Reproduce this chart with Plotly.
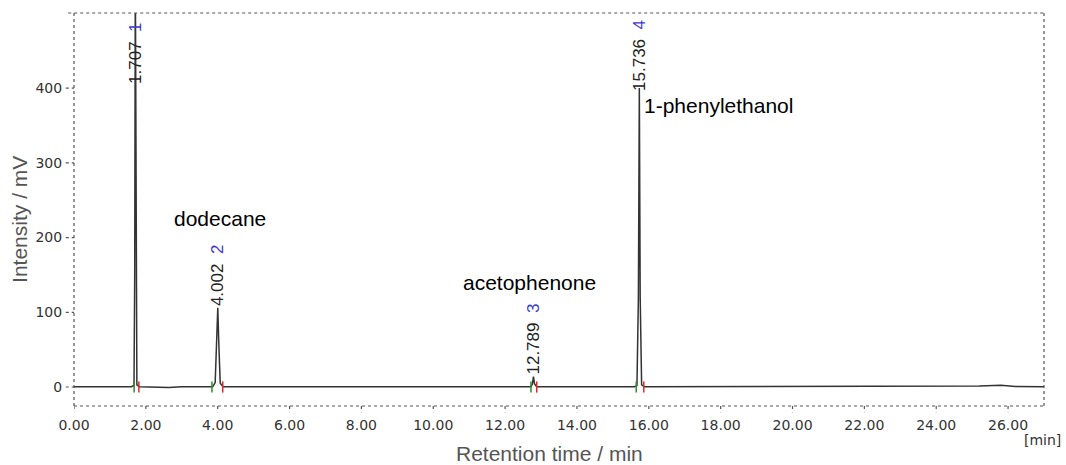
import plotly.graph_objects as go

# ---- data ----
time_min = [0.0, 1.60, 1.67, 1.69, 1.707, 1.725, 1.75, 1.82, 2.64, 3.0, 3.86, 3.93, 3.97, 4.002,
            4.03, 4.07, 4.15, 12.0, 12.72, 12.76, 12.789, 12.82, 12.88, 15.60, 15.67, 15.71,
            15.736, 15.76, 15.80, 15.88, 24.0, 24.6, 25.2, 25.8, 26.2, 27.0]
intensity_mv = [0.3, 0.3, 2, 150, 560, 150, 3, 0.5, -0.5, 0.3, 0.3, 6, 60, 106,
                60, 5, 0.3, 0.3, 0.3, 4, 14, 4, 0.3, 0.3, 2, 120,
                400, 120, 3, 0.3, 0.8, 1.8, 1.2, 2.2, 0.8, 0.5]

peak_numbers = ["1", "2", "3", "4"]
peak_times = [1.707, 4.002, 12.789, 15.736]
peak_heights = [560, 106, 14, 400]
peak_starts = [1.674, 3.84, 12.72, 15.65]
peak_ends = [1.805, 4.14, 12.88, 15.86]

compound_names = ["dodecane", "acetophenone", "1-phenylethanol"]

x_ticks = [0, 2, 4, 6, 8, 10, 12, 14, 16, 18, 20, 22, 24, 26]
y_ticks = [0, 100, 200, 300, 400]

X_RANGE = [0, 27]
Y_RANGE = [-25.4, 500.5]

fig = go.Figure()

fig.add_trace(go.Scatter(
    x=time_min, y=intensity_mv, mode="lines",
    line=dict(color="#333333", width=1.5),
    hoverinfo="skip", showlegend=False,
))

fig.add_trace(go.Scatter(
    x=peak_starts, y=[0] * len(peak_starts), mode="markers",
    marker=dict(symbol="line-ns", size=8, line=dict(color="#2e8b2e", width=1.5)),
    hoverinfo="skip", showlegend=False,
))
fig.add_trace(go.Scatter(
    x=peak_ends, y=[0] * len(peak_ends), mode="markers",
    marker=dict(symbol="line-ns", size=8, line=dict(color="#e02828", width=1.5)),
    hoverinfo="skip", showlegend=False,
))

# peak retention-time labels + peak numbers (rotated)
label_shift = [-4, 0, 0, -5]
for num, t, h, ys in zip(peak_numbers, peak_times, peak_heights, label_shift):
    base = min(h, 408)
    fig.add_annotation(
        x=t, y=base, xref="x", yref="y", yshift=ys,
        text="%.3f" % t + "\u00a0\u00a0" + "<span style='color:#3b3bd0'>" + num + "</span>",
        textangle=-90, showarrow=False, xanchor="center", yanchor="bottom",
        font=dict(family="Liberation Sans, Arial", size=17, color="#222222"),
    )

# compound names
name_pos = [(4.06, 225), (12.67, 140), (17.95, 377)]
for name, (nx, ny) in zip(compound_names, name_pos):
    fig.add_annotation(
        x=nx, y=ny, xref="x", yref="y", text=name, showarrow=False,
        xanchor="center", yanchor="middle",
        font=dict(family="Liberation Sans, Arial", size=21, color="#000000"),
    )

# axis titles
fig.add_annotation(
    x=0.4907, y=-0.122, xref="paper", yref="paper", text="Retention time / min",
    showarrow=False, xanchor="center", yanchor="middle",
    font=dict(family="Liberation Sans, Arial", size=21, color="#555555"),
)
fig.add_annotation(
    x=-0.0557, y=0.476, xref="paper", yref="paper", text="Intensity / mV",
    textangle=-90, showarrow=False, xanchor="center", yanchor="middle",
    font=dict(family="Liberation Sans, Arial", size=21, color="#555555"),
)
fig.add_annotation(
    x=0.998, y=-0.0865, xref="paper", yref="paper", text="[min]",
    showarrow=False, xanchor="center", yanchor="middle",
    font=dict(family="DejaVu Sans", size=14, color="#333333"),
)

# dotted frame
frame = dict(color="#555555", width=1.2, dash="dot")
fig.add_shape(type="line", xref="paper", yref="paper", x0=-0.006, x1=1, y0=1, y1=1, line=frame)
fig.add_shape(type="line", xref="paper", yref="paper", x0=0, x1=1, y0=0, y1=0, line=frame)
fig.add_shape(type="line", xref="paper", yref="paper", x0=0, x1=0, y0=0, y1=1, line=frame)
fig.add_shape(type="line", xref="paper", yref="paper", x0=1, x1=1, y0=0, y1=1, line=frame)

# dotted tick marks
for xt in x_ticks:
    fig.add_shape(type="line", xref="x", yref="paper", x0=xt, x1=xt, y0=0, y1=-0.016, line=frame)
for yt in y_ticks:
    fig.add_shape(type="line", xref="paper", yref="y", x0=-0.0085, x1=0, y0=yt, y1=yt, line=frame)

fig.update_xaxes(
    range=X_RANGE, tickvals=x_ticks, tickformat=".2f",
    showgrid=False, zeroline=False, showline=False,
    ticks="outside", ticklen=6, tickcolor="rgba(0,0,0,0)",
    tickfont=dict(family="DejaVu Sans", size=14, color="#333333"),
)
fig.update_yaxes(
    range=Y_RANGE, tickvals=y_ticks,
    showgrid=False, zeroline=False, showline=False,
    ticks="outside", ticklen=8, tickcolor="rgba(0,0,0,0)",
    tickfont=dict(family="DejaVu Sans", size=14, color="#333333"),
)

fig.update_layout(
    width=1066, height=465,
    margin=dict(l=74, r=22, t=13, b=59),
    plot_bgcolor="white", paper_bgcolor="white",
    showlegend=False,
)

fig.write_html(
    "out.html",
    config={"displayModeBar": False},
    post_script="document.body.style.margin='0';document.body.style.padding='0';"
                "document.body.style.overflow='hidden';",
)
